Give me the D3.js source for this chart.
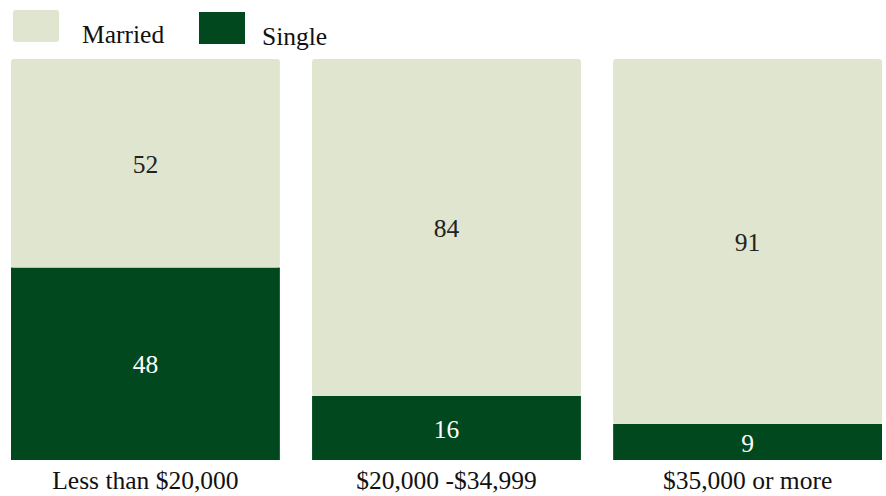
<!DOCTYPE html>
<html>
<head>
<meta charset="utf-8">
<script src="https://cdn.jsdelivr.net/npm/d3@7"></script>
<style>
  html, body { margin: 0; padding: 0; background: #ffffff; }
  svg { display: block; }
  text { font-family: "Liberation Serif", "Times New Roman", serif; }
</style>
</head>
<body>
<svg id="chart" width="886" height="496"></svg>
<script>
const categories = ["Less than $20,000", "$20,000 -$34,999", "$35,000 or more"];
const seriesNames = ["Single", "Married"];
const singleValues = [48, 16, 9];
const marriedValues = [52, 84, 91];
const colors = { "Married": "#dfe5cf", "Single": "#02481e" };
const labelColors = { "Married": "#222222", "Single": "#ffffff" };

const FS = 25.5;
const svg = d3.select("#chart");

const rows = categories.map((c, i) => ({ category: c, Single: singleValues[i], Married: marriedValues[i] }));
const stacked = d3.stack().keys(seriesNames)(rows);

const x = d3.scaleBand().domain(categories).range([11, 882]).paddingInner(0.107).paddingOuter(0);
const y = d3.scaleLinear().domain([0, 100]).range([460, 59]);

const g = svg.append("g");

stacked.forEach(layer => {
  const key = layer.key;
  const lg = g.append("g");
  lg.selectAll("rect").data(layer).join("rect")
    .attr("x", d => x(d.data.category))
    .attr("width", x.bandwidth())
    .attr("y", d => y(d[1]))
    .attr("height", d => y(d[0]) - y(d[1]))
    .attr("rx", key === "Married" ? 3 : 0)
    .attr("fill", colors[key]);
  lg.selectAll("text").data(layer).join("text")
    .attr("x", d => x(d.data.category) + x.bandwidth() / 2)
    .attr("y", d => (y(d[0]) + y(d[1])) / 2)
    .attr("dy", "0.38em")
    .attr("text-anchor", "middle")
    .attr("font-size", FS)
    .attr("fill", labelColors[key])
    .text(d => d.data[key]);
});

const xAxis = d3.axisBottom(x).tickSize(0).tickPadding(11);
const ax = svg.append("g").attr("transform", "translate(0,460)").call(xAxis);
ax.select(".domain").remove();
ax.selectAll("text").attr("font-size", FS).attr("fill", "#111111")
  .style("font-family", '"Liberation Serif", "Times New Roman", serif');

const legendItems = [
  { name: "Married", sx: 13, sy: 10, tx: 82, ty: 43 },
  { name: "Single", sx: 199, sy: 12, tx: 262, ty: 45 }
];
const leg = svg.append("g");
legendItems.forEach(it => {
  leg.append("rect").attr("x", it.sx).attr("y", it.sy).attr("width", 46).attr("height", 32)
    .attr("rx", it.name === "Married" ? 3 : 0)
    .attr("fill", colors[it.name]);
  leg.append("text").attr("x", it.tx).attr("y", it.ty).attr("font-size", FS).attr("fill", "#111111").text(it.name);
});
</script>
</body>
</html>
